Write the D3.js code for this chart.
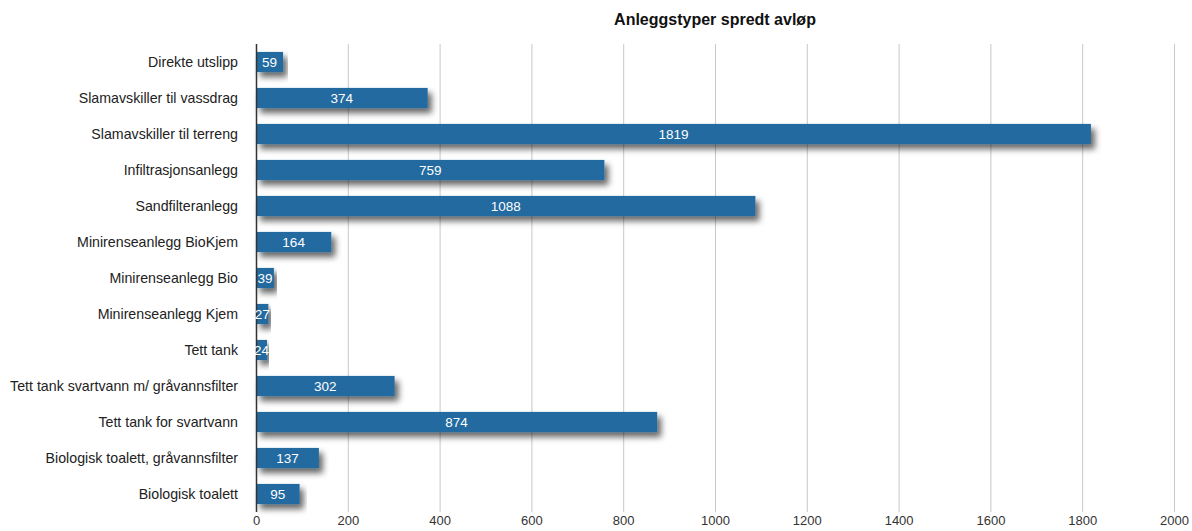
<!DOCTYPE html>
<html><head><meta charset="utf-8">
<script src="https://cdn.jsdelivr.net/npm/d3@7"></script>
<style>
body{margin:0;background:#fff;}
text{font-family:"Liberation Sans",Arial,Helvetica,sans-serif;}
</style></head>
<body><svg id="c" width="1192" height="531"></svg>
<script>
const categories = ["Direkte utslipp","Slamavskiller til vassdrag","Slamavskiller til terreng","Infiltrasjonsanlegg","Sandfilteranlegg","Minirenseanlegg BioKjem","Minirenseanlegg Bio","Minirenseanlegg Kjem","Tett tank","Tett tank svartvann m/ gråvannsfilter","Tett tank for svartvann","Biologisk toalett, gråvannsfilter","Biologisk toalett"];
const values = [59,374,1819,759,1088,164,39,27,24,302,874,137,95];
const xTicks = [0,200,400,600,800,1000,1200,1400,1600,1800,2000];
const title = "Anleggstyper spredt avløp";

const svg = d3.select("#c");
const m = {left:256, right:1174, top:44, bottom:512};
const x = d3.scaleLinear().domain([0,2000]).range([m.left,m.right]);
const y = d3.scaleBand().domain(categories).range([m.top,m.bottom]).paddingInner(0.44).paddingOuter(0.22);

const defs = svg.append("defs");
const f = defs.append("filter").attr("id","sh").attr("x","-5%").attr("y","-60%").attr("width","120%").attr("height","280%");
f.append("feDropShadow").attr("dx",4).attr("dy",5).attr("stdDeviation",3).attr("flood-color","#000").attr("flood-opacity",0.6);

svg.append("text").attr("x",(m.left+m.right)/2).attr("y",25).attr("text-anchor","middle")
  .attr("font-size",16).attr("font-weight","bold").attr("fill","#111").text(title);

// grid
svg.append("g").selectAll("line").data(xTicks.slice(1)).join("line")
  .attr("x1",d=>x(d)+0.5).attr("x2",d=>x(d)+0.5).attr("y1",m.top).attr("y2",m.bottom)
  .attr("stroke","#c8c8c8").attr("stroke-width",1);

// x axis labels
const xa = d3.axisBottom(x).tickValues(xTicks).tickFormat(d3.format("d")).tickSize(0).tickPadding(4);
const gx = svg.append("g").attr("transform",`translate(0,${m.bottom})`).call(xa);
gx.select(".domain").remove();
gx.selectAll("text").attr("font-size",13).attr("fill","#333").attr("font-family","Liberation Sans,Arial,sans-serif");

// bars
svg.append("g").selectAll("rect").data(values).join("rect")
  .attr("x",x(0)).attr("y",(d,i)=>y(categories[i])).attr("width",d=>x(d)-x(0)).attr("height",y.bandwidth())
  .attr("fill","#236b9f").attr("filter","url(#sh)");

// y axis
const ya = d3.axisLeft(y).tickSize(0).tickPadding(18);
const gy = svg.append("g").attr("transform",`translate(${m.left},0)`).call(ya);
gy.select(".domain").remove();
gy.selectAll("text").attr("font-size",14.2).attr("fill","#222").attr("font-family","Liberation Sans,Arial,sans-serif");
svg.append("line").attr("x1",m.left+0.5).attr("x2",m.left+0.5).attr("y1",m.top).attr("y2",m.bottom)
  .attr("stroke","#333").attr("stroke-width",1.5);

// value labels
svg.append("g").selectAll("text").data(values).join("text")
  .attr("x",d=>(x(0)+x(d))/2).attr("y",(d,i)=>y(categories[i])+y.bandwidth()/2)
  .attr("dy","0.36em").attr("text-anchor","middle").attr("font-size",13.5).attr("fill","#fff")
  .text(d=>d);
</script></body></html>
